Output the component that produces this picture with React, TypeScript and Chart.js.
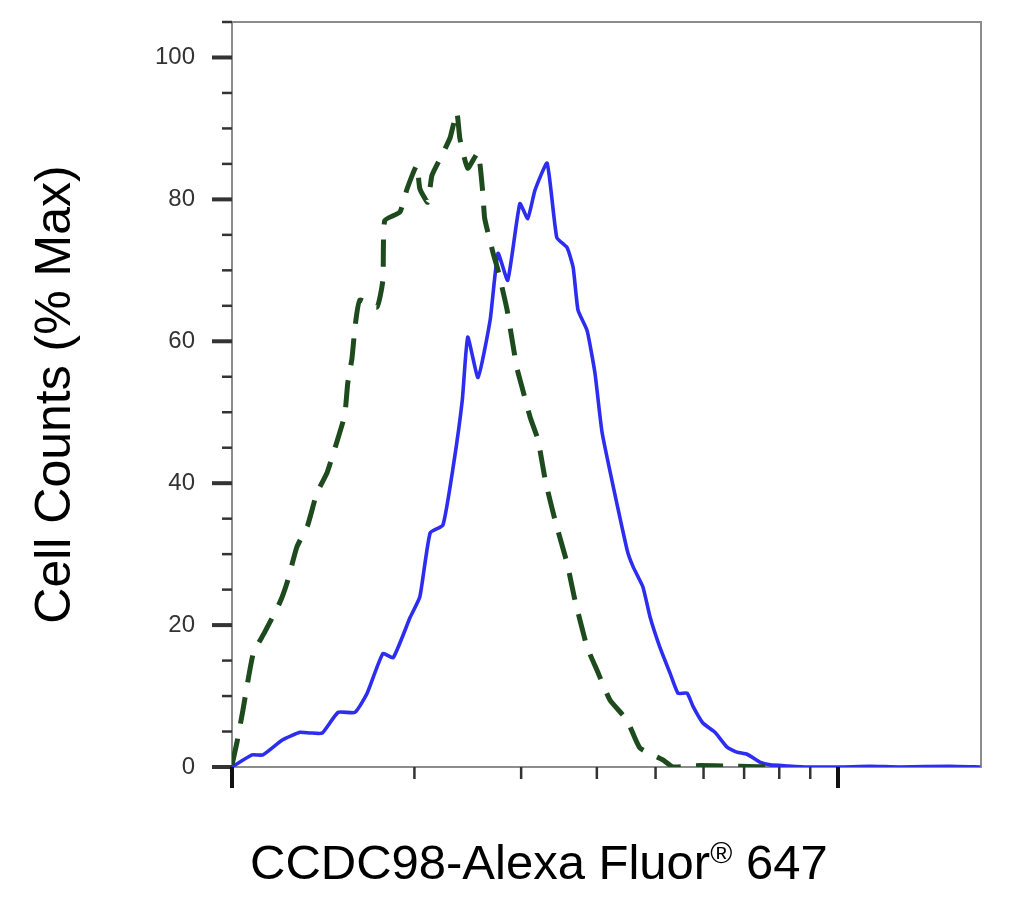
import { useEffect, useRef } from "react"
import Chart from "chart.js/auto"

// x values are log10 of the fluorescence intensity (one decade = 100 to 1000)
const stainedX = [
  2.0, 2.033, 2.051, 2.083, 2.112, 2.129, 2.149, 2.175, 2.203, 2.223, 2.249, 2.266, 2.294, 2.31,
  2.327, 2.348, 2.365, 2.38, 2.389, 2.406, 2.426, 2.439, 2.455, 2.475, 2.488, 2.5, 2.52, 2.536,
  2.553, 2.563, 2.571, 2.586, 2.599, 2.611, 2.652, 2.662, 2.678, 2.69, 2.706, 2.723, 2.736, 2.751,
  2.761, 2.777, 2.797, 2.817, 2.833, 2.85, 2.871, 2.888, 2.916, 2.949, 3.003, 3.053, 3.102, 3.185,
  3.235,
]
const stainedY = [
  0, 1.7, 1.7, 3.8, 4.9, 4.8, 4.8, 7.7, 7.7, 10.4, 16.0, 15.4, 21.1, 24.0, 33.0, 34.1, 42.3, 51.7,
  60.6, 54.9, 63.0, 72.4, 68.6, 79.4, 77.3, 81.3, 85.1, 74.6, 73.2, 70.4, 64.4, 61.5, 55.5, 47.0,
  30.6, 28.2, 25.4, 21.1, 16.9, 13.2, 10.4, 10.4, 8.5, 6.2, 4.9, 2.8, 2.1, 1.8, 0.7, 0.3, 0.15, 0,
  0, 0.1, 0, 0.1, 0,
]

const controlX = [
  2.0, 2.008, 2.018, 2.035, 2.054, 2.079, 2.092, 2.107, 2.125, 2.14, 2.157, 2.173, 2.186, 2.191,
  2.198, 2.203, 2.211, 2.239, 2.249, 2.252, 2.277, 2.289, 2.305, 2.31, 2.323, 2.33, 2.348, 2.36,
  2.371, 2.376, 2.389, 2.406, 2.414, 2.417, 2.431, 2.439, 2.454, 2.47, 2.479, 2.492, 2.505, 2.517,
  2.533, 2.553, 2.566, 2.586, 2.602, 2.624, 2.652, 2.673, 2.711, 2.728, 2.772, 2.838, 2.896,
]
const controlY = [
  0.3, 3.4, 8.0, 16.0, 19.0, 23.2, 26.3, 31.0, 34.1, 38.6, 41.5, 45.8, 49.6, 54.1, 57.6, 62.0, 65.8,
  64.8, 68.6, 77.0, 78.2, 81.5, 84.8, 81.5, 79.6, 83.4, 86.5, 88.7, 92.3, 88.6, 84.4, 86.6, 80.8,
  77.3, 72.4, 70.0, 64.4, 56.3, 53.4, 49.3, 46.1, 40.4, 34.8, 28.7, 23.5, 16.9, 13.7, 9.4, 6.6, 2.7,
  1.0, 0, 0.2, 0.1, 0,
]

const yLabelTicks = [0, 20, 40, 60, 80, 100]
const yMinorTicks = [5, 10, 15, 25, 30, 35, 45, 50, 55, 65, 70, 75, 85, 90, 95, 105]
const xMajorIntensity = [100, 1000]
const xMinorIntensity = [200, 300, 400, 500, 600, 700, 800, 900]

const FONT = "'Liberation Sans', Arial, sans-serif"

const axisFrame = {
  id: "axisFrame",
  beforeDatasetsDraw(chart: any) {
    const { ctx, chartArea: a, scales } = chart
    const xs = scales.x
    const ys = scales.y
    ctx.save()
    ctx.strokeStyle = "#8c8c8c"
    ctx.lineWidth = 2
    ctx.strokeRect(a.left, a.top, a.right - a.left, a.bottom - a.top)

    ctx.strokeStyle = "#333"
    const line = (x1: number, y1: number, x2: number, y2: number, w: number) => {
      ctx.lineWidth = w
      ctx.beginPath()
      ctx.moveTo(x1, y1)
      ctx.lineTo(x2, y2)
      ctx.stroke()
    }
    yLabelTicks.forEach((v) => {
      const y = ys.getPixelForValue(v)
      line(a.left - 20, y, a.left, y, 4)
    })
    yMinorTicks.forEach((v) => {
      const y = ys.getPixelForValue(v)
      line(a.left - 10, y, a.left, y, 2.5)
    })
    ctx.strokeStyle = "#111"
    xMajorIntensity.forEach((v) => {
      const x = xs.getPixelForValue(Math.log10(v))
      line(x, a.bottom, x, a.bottom + 21, 4)
    })
    ctx.strokeStyle = "#333"
    xMinorIntensity.forEach((v) => {
      const x = xs.getPixelForValue(Math.log10(v))
      line(x, a.bottom, x, a.bottom + 12, 2.5)
    })
    ctx.restore()
  },
}

const App = () => {
  const chartRef = useRef<HTMLCanvasElement>(null)
  const chartInstance = useRef<Chart | null>(null)

  useEffect(() => {
    document.body.style.margin = "0"
    if (!chartRef.current) return
    if (chartInstance.current) chartInstance.current.destroy()
    const ctx = chartRef.current.getContext("2d")
    if (!ctx) return

    chartInstance.current = new Chart(ctx, {
      type: "line",
      data: {
        datasets: [
          {
            label: "Isotype control",
            data: controlX.map((x, i) => ({ x, y: controlY[i] })),
            borderColor: "#1e4b1e",
            borderWidth: 5,
            borderDash: [27, 15],
            pointRadius: 0,
            tension: 0.15,
          },
          {
            label: "CCDC98",
            data: stainedX.map((x, i) => ({ x, y: stainedY[i] })),
            borderColor: "#2d2df0",
            borderWidth: 3.6,
            pointRadius: 0,
            tension: 0.15,
          },
        ],
      },
      options: {
        animation: false,
        responsive: true,
        maintainAspectRatio: false,
        layout: { padding: { top: 22, right: 54, left: 0, bottom: 0 } },
        plugins: {
          legend: { display: false },
          tooltip: { enabled: false },
        },
        scales: {
          x: {
            type: "linear",
            min: 2,
            max: 3.236,
            ticks: { display: false },
            grid: { display: false, drawTicks: false },
            border: { display: false },
            afterFit: (scale: any) => {
              scale.height = 138
              scale.paddingLeft = 0
              scale.paddingRight = 0
            },
          },
          y: {
            type: "linear",
            min: 0,
            max: 105,
            afterBuildTicks: (scale: any) => {
              scale.ticks = yLabelTicks.map((v) => ({ value: v }))
            },
            afterFit: (scale: any) => {
              scale.width = 232
              scale.paddingTop = 0
              scale.paddingBottom = 0
            },
            ticks: {
              padding: 37,
              color: "#333",
              font: { family: FONT, size: 24 },
            },
            grid: { display: false, drawTicks: false },
            border: { display: false },
            title: {
              display: true,
              text: "Cell Counts (% Max)",
              color: "#000",
              font: { family: FONT, size: 50 },
              padding: { top: 26, bottom: 0 },
            },
          },
        },
      },
      plugins: [axisFrame],
    })

    return () => {
      if (chartInstance.current) {
        chartInstance.current.destroy()
        chartInstance.current = null
      }
    }
  }, [])

  return (
    <div style={{ position: "relative", width: 1035, height: 905, background: "#fff" }}>
      <canvas ref={chartRef} />
      <div
        style={{
          position: "absolute",
          left: 250,
          top: 838,
          fontFamily: FONT,
          fontSize: 49,
          lineHeight: 1,
          color: "#000",
          whiteSpace: "nowrap",
        }}
      >
        CCDC98-Alexa Fluor<span style={{ fontSize: 30, verticalAlign: 16 }}>®</span> 647
      </div>
    </div>
  )
}

export default App
